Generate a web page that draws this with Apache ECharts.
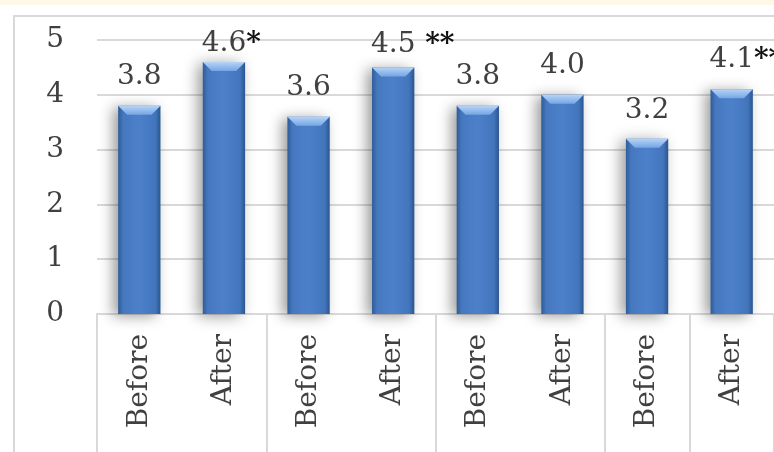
<!DOCTYPE html>
<html>
<head>
<meta charset="utf-8">
<script src="https://cdn.jsdelivr.net/npm/echarts@6/dist/echarts.min.js"></script>
<style>
  html, body { margin: 0; padding: 0; background: #ffffff; }
  #chart { width: 774px; height: 452px; }
</style>
</head>
<body>
<div id="chart"></div>
<script>
// Mean scores before and after, in pairs
const categories = ['Before', 'After', 'Before', 'After', 'Before', 'After', 'Before', 'After'];
const scores = [3.8, 4.6, 3.6, 4.5, 3.8, 4.0, 3.2, 4.1];
// Significance markers shown after each value label
const significance = ['', '*', '', ' **', '', '', '', '**'];
const yTicks = [0, 1, 2, 3, 4, 5];

// Label spacing above each bar (px)
const labelGap = [15, 4, 15, 9, 15, 15, 14, 16];

const FONT = '"DejaVu Serif", "Liberation Serif", serif';
const TEXT = '#404040';
const LINE = '#d9d9d9';
const BAR_RATIO = 0.5;

const barBody = new echarts.graphic.LinearGradient(0, 0, 1, 0, [
  { offset: 0, color: '#2d5c99' },
  { offset: 0.12, color: '#4678bf' },
  { offset: 0.5, color: '#4c81ca' },
  { offset: 0.88, color: '#4275bc' },
  { offset: 1, color: '#2a5690' }
]);
const bevelFill = new echarts.graphic.LinearGradient(0, 0, 0, 1, [
  { offset: 0, color: '#b6d4f7' },
  { offset: 1, color: '#76a6e4' }
]);

const chart = echarts.init(document.getElementById('chart'), null, { renderer: 'canvas' });

const barData = scores.map((v, i) => ({
  value: v,
  label: { distance: labelGap[i] }
}));

chart.setOption({
  backgroundColor: '#ffffff',
  animation: false,
  graphic: [
    { type: 'rect', shape: { x: 0, y: 0, width: 774, height: 5 }, style: { fill: '#fef9e7' }, z: 0 },
    { type: 'polyline', shape: { points: [[14, 470], [14, 16], [790, 16]] },
      style: { stroke: LINE, lineWidth: 2, fill: null }, z: 0 }
  ],
  grid: { left: 97, top: 40, width: 686, height: 274, containLabel: false },
  xAxis: [{
    type: 'category',
    data: categories,
    boundaryGap: true,
    axisLine: { show: true, lineStyle: { color: LINE, width: 2 } },
    axisTick: { show: true, interval: 1, length: 150, lineStyle: { color: LINE, width: 2 } },
    axisLabel: {
      rotate: 90, margin: 20, interval: 0,
      fontFamily: FONT, fontSize: 28, color: TEXT
    },
    splitLine: { show: false }
  }],
  yAxis: [{
    type: 'value',
    min: yTicks[0], max: yTicks[yTicks.length - 1], interval: 1,
    axisLine: { show: false },
    axisTick: { show: false },
    axisLabel: { margin: 33, fontFamily: FONT, fontSize: 28, color: TEXT },
    splitLine: { show: true, lineStyle: { color: LINE, width: 2 } }
  }],
  series: [
    {
      type: 'bar',
      data: barData,
      barWidth: (BAR_RATIO * 100) + '%',
      itemStyle: {
        color: barBody,
        shadowColor: 'rgba(0,0,0,0.4)',
        shadowBlur: 14,
        shadowOffsetX: -5,
        shadowOffsetY: 2
      },
      label: {
        show: true,
        position: 'top',
        formatter: (p) => {
          const mark = significance[p.dataIndex];
          const val = scores[p.dataIndex].toFixed(1);
          if (!mark) return '{v|' + val + '}';
          return '{pad|' + mark + '}{v|' + val + '}{s|' + mark + '}';
        },
        rich: {
          v: { fontFamily: FONT, fontSize: 28, color: TEXT },
          s: { fontFamily: FONT, fontSize: 28, fontWeight: 'bold', color: '#111111' },
          pad: { fontFamily: FONT, fontSize: 28, fontWeight: 'bold', color: 'transparent' }
        }
      },
      z: 2
    },
    {
      // top bevel of each bar
      type: 'custom',
      silent: true,
      z: 3,
      data: scores.map((v, i) => [i, v]),
      renderItem: (params, api) => {
        const top = api.coord([api.value(0), api.value(1)]);
        const band = api.size([1, 0])[0];
        const w = band * BAR_RATIO;
        const x0 = top[0] - w / 2, x1 = top[0] + w / 2, y0 = top[1], b = 9;
        return {
          type: 'polygon',
          shape: { points: [[x0, y0], [x1, y0], [x1 - b, y0 + b], [x0 + b, y0 + b]] },
          style: { fill: bevelFill }
        };
      }
    }
  ]
});
</script>
</body>
</html>
